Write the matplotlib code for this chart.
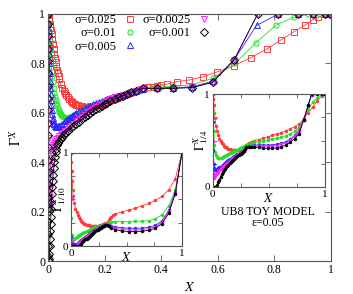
import matplotlib
matplotlib.use("Agg")
import matplotlib.pyplot as plt
from matplotlib.lines import Line2D

plt.rcParams['font.family'] = ['Liberation Serif', 'DejaVu Serif']
plt.rcParams['mathtext.fontset'] = 'stix'
plt.rcParams['font.size'] = 8.5

# ---------------- data: main panel (Gamma^X vs X) ----------------
labels = ["σ=0.025", "σ=0.01", "σ=0.005", "σ=0.0025", "σ=0.001"]
colors = ["#ff3b3b", "#22e022", "#2a2aff", "#ff22ff", "#000000"]
markers = ["s", "o", "^", "v", "D"]

x_red = [0, 0.002, 0.004, 0.006, 0.008, 0.01, 0.0125, 0.015, 0.0175, 0.02, 0.0225,
         0.025, 0.0275, 0.03, 0.0325, 0.035, 0.0375, 0.04, 0.045, 0.05, 0.055, 0.06,
         0.065, 0.07, 0.075, 0.08, 0.085, 0.09, 0.095, 0.1, 0.105, 0.11, 0.115, 0.12,
         0.125, 0.13, 0.135, 0.14, 0.145, 0.15, 0.155, 0.16, 0.165, 0.17, 0.175, 0.18,
         0.185, 0.19, 0.195, 0.2, 0.205, 0.21, 0.215, 0.22, 0.225, 0.23, 0.235, 0.24,
         0.245, 0.25, 0.26, 0.27, 0.28, 0.29, 0.3, 0.31, 0.32, 0.33, 0.34, 0.355, 0.37,
         0.385, 0.4, 0.42, 0.455, 0.499, 0.549, 0.598, 0.658, 0.716, 0.773, 0.823,
         0.869, 0.908, 0.935, 0.955, 0.985, 1.0]
y_red = [1.0, 0.985, 0.972, 0.96, 0.948, 0.935, 0.918, 0.9, 0.88, 0.86, 0.84, 0.82,
         0.805, 0.79, 0.775, 0.76, 0.748, 0.735, 0.715, 0.70, 0.69, 0.68, 0.671, 0.662,
         0.655, 0.648, 0.643, 0.638, 0.635, 0.632, 0.63, 0.628, 0.627, 0.626, 0.625,
         0.625, 0.625, 0.625, 0.625, 0.626, 0.627, 0.628, 0.629, 0.63, 0.631, 0.633,
         0.635, 0.637, 0.639, 0.641, 0.643, 0.645, 0.647, 0.65, 0.652, 0.655, 0.657,
         0.659, 0.661, 0.664, 0.668, 0.672, 0.676, 0.68, 0.684, 0.688, 0.692, 0.696,
         0.699, 0.703, 0.706, 0.709, 0.712, 0.716, 0.726, 0.733, 0.746, 0.766, 0.791,
         0.823, 0.858, 0.895, 0.928, 0.955, 0.976, 0.987, 1.0, 1.0]

x_green = [0, 0.002, 0.004, 0.006, 0.008, 0.01, 0.0125, 0.015, 0.0175, 0.02, 0.0225,
           0.025, 0.0275, 0.03, 0.0325, 0.035, 0.0375, 0.04, 0.0425, 0.045, 0.0475,
           0.05, 0.055, 0.06, 0.065, 0.07, 0.075, 0.08, 0.085, 0.09, 0.095, 0.1, 0.105,
           0.11, 0.115, 0.12, 0.125, 0.13, 0.135, 0.14, 0.145, 0.15, 0.155, 0.16, 0.17,
           0.18, 0.19, 0.2, 0.21, 0.22, 0.23, 0.24, 0.25, 0.26, 0.27, 0.28, 0.29, 0.3,
           0.32, 0.34, 0.37, 0.4, 0.443, 0.508, 0.584, 0.661, 0.735, 0.806, 0.869,
           0.92, 0.96, 0.985, 1.0]
y_green = [1.0, 0.965, 0.93, 0.89, 0.855, 0.82, 0.785, 0.75, 0.725, 0.70, 0.68, 0.665,
           0.652, 0.64, 0.63, 0.62, 0.612, 0.605, 0.6, 0.595, 0.591, 0.587, 0.582,
           0.579, 0.578, 0.579, 0.581, 0.583, 0.585, 0.588, 0.591, 0.594, 0.597, 0.6,
           0.603, 0.606, 0.609, 0.612, 0.615, 0.618, 0.621, 0.624, 0.627, 0.63, 0.635,
           0.64, 0.645, 0.65, 0.654, 0.658, 0.662, 0.665, 0.669, 0.672, 0.676, 0.679,
           0.683, 0.686, 0.692, 0.698, 0.703, 0.705, 0.707, 0.713, 0.740, 0.800,
           0.884, 0.955, 0.987, 0.998, 1.0, 1.0, 1.0]

x_blue = [0, 0.001, 0.002, 0.003, 0.004, 0.005, 0.006, 0.007, 0.008, 0.009, 0.01,
          0.0115, 0.013, 0.0145, 0.016, 0.018, 0.02, 0.0225, 0.025, 0.0275, 0.03,
          0.0325, 0.035, 0.0375, 0.04, 0.045, 0.05, 0.055, 0.06, 0.065, 0.07, 0.075,
          0.08, 0.085, 0.09, 0.095, 0.1, 0.11, 0.12, 0.13, 0.14, 0.15, 0.16, 0.17,
          0.18, 0.19, 0.2, 0.21, 0.22, 0.235, 0.25, 0.265, 0.28, 0.295, 0.31, 0.335,
          0.386, 0.443, 0.508, 0.582, 0.658, 0.737, 0.814, 0.882, 0.937, 0.979, 1.0]
y_blue = [1.0, 0.965, 0.93, 0.885, 0.84, 0.8, 0.76, 0.73, 0.70, 0.675, 0.65, 0.63,
          0.61, 0.595, 0.58, 0.57, 0.56, 0.553, 0.548, 0.545, 0.544, 0.544, 0.545,
          0.546, 0.548, 0.552, 0.556, 0.56, 0.565, 0.57, 0.574, 0.578, 0.583, 0.587,
          0.592, 0.596, 0.6, 0.606, 0.612, 0.618, 0.624, 0.629, 0.634, 0.639, 0.644,
          0.648, 0.652, 0.656, 0.659, 0.664, 0.668, 0.673, 0.678, 0.683, 0.688, 0.697,
          0.700, 0.702, 0.705, 0.728, 0.815, 0.954, 1.0, 1.0, 1.0, 1.0, 1.0]

x_mag = [0, 0.0003, 0.0006, 0.0009, 0.0012, 0.0015, 0.0018, 0.0021, 0.0024, 0.0027,
         0.003, 0.0033, 0.0036, 0.004, 0.0045, 0.005, 0.0055, 0.006, 0.0065, 0.007,
         0.0075, 0.008, 0.009, 0.01, 0.011, 0.0125, 0.014, 0.016, 0.018, 0.02, 0.025,
         0.03, 0.035, 0.04, 0.045, 0.05, 0.055, 0.06, 0.07, 0.08, 0.09, 0.1, 0.11,
         0.12, 0.13, 0.14, 0.15, 0.16, 0.17, 0.18, 0.19, 0.2, 0.21, 0.22, 0.235, 0.25,
         0.265, 0.28, 0.295, 0.31, 0.335, 0.386, 0.443, 0.508, 0.582, 0.658, 0.741,
         0.814, 0.882, 0.937, 0.979, 0.996]
y_mag = [1.0, 0.95, 0.9, 0.85, 0.8, 0.75, 0.7, 0.65, 0.6, 0.55, 0.5, 0.45, 0.4, 0.35,
         0.3, 0.26, 0.23, 0.22, 0.23, 0.26, 0.29, 0.32, 0.36, 0.39, 0.415, 0.435, 0.45,
         0.462, 0.47, 0.476, 0.486, 0.494, 0.5, 0.505, 0.51, 0.515, 0.52, 0.525,
         0.535, 0.545, 0.555, 0.565, 0.574, 0.583, 0.592, 0.6, 0.608, 0.616, 0.623,
         0.63, 0.637, 0.643, 0.649, 0.655, 0.662, 0.668, 0.673, 0.678, 0.683, 0.688,
         0.698, 0.699, 0.700, 0.703, 0.724, 0.815, 1.0, 1.0, 1.0, 1.0, 1.0, 1.0]

x_black = [0, 0.0005, 0.0005, 0.0005, 0.0005, 0.0005, 0.0005, 0.0005, 0.0005, 0.0005,
           0.0005, 0.0005, 0.0005, 0.0005, 0.0005, 0.0005, 0.0005, 0.0005, 0.0005,
           0.0005, 0.001, 0.002, 0.003, 0.004, 0.005, 0.006, 0.007, 0.008, 0.009,
           0.01, 0.011, 0.012, 0.0135, 0.015, 0.0165, 0.018, 0.02, 0.022, 0.0245,
           0.027, 0.03, 0.033, 0.0365, 0.04, 0.045, 0.05, 0.055, 0.06, 0.07, 0.08,
           0.09, 0.1, 0.11, 0.12, 0.13, 0.14, 0.15, 0.16, 0.17, 0.18, 0.19, 0.2, 0.21,
           0.22, 0.235, 0.25, 0.265, 0.28, 0.295, 0.31, 0.335, 0.386, 0.443, 0.508,
           0.582, 0.658, 0.741, 0.814, 0.882, 0.937, 0.979, 0.996]
y_black = [1.0, 0.96, 0.91, 0.86, 0.81, 0.76, 0.71, 0.66, 0.61, 0.56, 0.51, 0.46,
           0.41, 0.36, 0.31, 0.26, 0.21, 0.16, 0.11, 0.06, 0.02, 0.0, 0.0, 0.01, 0.03,
           0.06, 0.09, 0.12, 0.15, 0.18, 0.21, 0.24, 0.27, 0.30, 0.325, 0.35, 0.375,
           0.40, 0.42, 0.44, 0.455, 0.468, 0.478, 0.486, 0.495, 0.503, 0.51, 0.517,
           0.528, 0.538, 0.547, 0.555, 0.564, 0.573, 0.582, 0.59, 0.598, 0.606, 0.614,
           0.621, 0.628, 0.635, 0.641, 0.647, 0.655, 0.663, 0.67, 0.677, 0.683, 0.688,
           0.699, 0.699, 0.699, 0.702, 0.723, 0.815, 1.0, 1.0, 1.0, 1.0, 1.0, 1.0]

# ---------------- data: inset Gamma^X_{1/10} ----------------
a_red_x = [0, 0.003, 0.006, 0.01, 0.015, 0.02, 0.03, 0.04, 0.05, 0.06, 0.07, 0.08, 0.09,
           0.1, 0.11, 0.12, 0.13, 0.14, 0.15, 0.16, 0.17, 0.18, 0.19, 0.2, 0.21, 0.22,
           0.23, 0.24, 0.25, 0.26, 0.27, 0.28, 0.29, 0.3, 0.31, 0.32, 0.33, 0.34, 0.35,
           0.36, 0.38, 0.4, 0.46, 0.52, 0.58, 0.64, 0.7, 0.76, 0.82, 0.88, 0.94, 1.0]
a_red_y = [1.0, 0.9, 0.8, 0.7, 0.6, 0.53, 0.46, 0.4, 0.36, 0.33, 0.305, 0.285, 0.27,
           0.258, 0.248, 0.24, 0.233, 0.228, 0.224, 0.22, 0.217, 0.215, 0.214, 0.213,
           0.213, 0.213, 0.214, 0.215, 0.217, 0.22, 0.223, 0.226, 0.23, 0.235, 0.242,
           0.25, 0.262, 0.28, 0.295, 0.31, 0.33, 0.345, 0.365, 0.385, 0.405, 0.43,
           0.455, 0.49, 0.53, 0.6, 0.72, 1.0]
a_green_x = [0, 0.002, 0.004, 0.006, 0.01, 0.02, 0.03, 0.04, 0.05, 0.06, 0.07, 0.08,
             0.09, 0.1, 0.11, 0.12, 0.13, 0.14, 0.15, 0.16, 0.17, 0.18, 0.19, 0.2, 0.21,
             0.22, 0.23, 0.24, 0.25, 0.26, 0.27, 0.28, 0.29, 0.3, 0.31, 0.32, 0.33,
             0.34, 0.36, 0.4, 0.46, 0.52, 0.58, 0.64, 0.7, 0.76, 0.82, 0.88, 0.94, 1.0]
a_green_y = [1.0, 0.6, 0.3, 0.12, 0.07, 0.065, 0.075, 0.085, 0.095, 0.105, 0.113,
             0.12, 0.128, 0.135, 0.143, 0.15, 0.155, 0.16, 0.165, 0.17, 0.175, 0.18,
             0.185, 0.19, 0.195, 0.2, 0.204, 0.208, 0.212, 0.215, 0.219, 0.222, 0.225,
             0.228, 0.233, 0.238, 0.245, 0.252, 0.26, 0.262, 0.262, 0.262, 0.263, 0.266,
             0.272, 0.29, 0.335, 0.43, 0.6, 1.0]
a_blue_x = [0, 0.002, 0.004, 0.006, 0.02, 0.04, 0.06, 0.07, 0.08, 0.09, 0.1, 0.11,
            0.12, 0.13, 0.14, 0.15, 0.16, 0.17, 0.18, 0.19, 0.2, 0.21, 0.22, 0.23,
            0.24, 0.25, 0.26, 0.27, 0.28, 0.29, 0.3, 0.31, 0.32, 0.34, 0.36, 0.4, 0.46,
            0.52, 0.58, 0.64, 0.7, 0.76, 0.82, 0.88, 0.94, 1.0]
a_blue_y = [1.0, 0.5, 0.1, 0.03, 0.02, 0.02, 0.03, 0.04, 0.05, 0.06, 0.07, 0.08, 0.09,
            0.1, 0.11, 0.12, 0.13, 0.138, 0.145, 0.153, 0.16, 0.168, 0.175, 0.182,
            0.188, 0.194, 0.2, 0.205, 0.21, 0.215, 0.22, 0.224, 0.228, 0.222, 0.212,
            0.205, 0.195, 0.19, 0.19, 0.192, 0.2, 0.22, 0.27, 0.38, 0.58, 1.0]
a_mag_x = [0, 0, 0, 0.005, 0.02, 0.04, 0.06, 0.07, 0.08, 0.09, 0.1, 0.11, 0.12, 0.13,
           0.14, 0.15, 0.16, 0.17, 0.18, 0.19, 0.2, 0.21, 0.22, 0.23, 0.24, 0.25, 0.26,
           0.27, 0.28, 0.29, 0.3, 0.31, 0.32, 0.34, 0.36, 0.4, 0.46, 0.52, 0.58, 0.64,
           0.7, 0.76, 0.82, 0.88, 0.94, 1.0]
a_mag_y = [1.0, 0.5, 0.05, 0.0, 0.0, 0.005, 0.02, 0.03, 0.04, 0.05, 0.06, 0.07, 0.08,
           0.09, 0.1, 0.11, 0.12, 0.13, 0.14, 0.148, 0.155, 0.163, 0.17, 0.178, 0.185,
           0.191, 0.197, 0.203, 0.208, 0.213, 0.218, 0.222, 0.226, 0.215, 0.2, 0.19,
           0.178, 0.172, 0.172, 0.176, 0.185, 0.205, 0.255, 0.37, 0.57, 1.0]
a_black_x = [0, 0.02, 0.04, 0.06, 0.08, 0.09, 0.1, 0.11, 0.12, 0.13, 0.14, 0.15, 0.16,
             0.17, 0.18, 0.19, 0.2, 0.21, 0.22, 0.23, 0.24, 0.25, 0.26, 0.27, 0.28,
             0.29, 0.3, 0.31, 0.32, 0.34, 0.36, 0.4, 0.46, 0.52, 0.58, 0.64, 0.7, 0.76,
             0.82, 0.88, 0.94, 1.0]
a_black_y = [0.0, 0.0, 0.0, 0.0, 0.01, 0.025, 0.04, 0.05, 0.06, 0.07, 0.08, 0.09, 0.1,
             0.11, 0.12, 0.13, 0.14, 0.149, 0.158, 0.167, 0.175, 0.183, 0.19, 0.197,
             0.203, 0.209, 0.215, 0.22, 0.224, 0.21, 0.19, 0.175, 0.16, 0.155, 0.155,
             0.158, 0.168, 0.19, 0.24, 0.35, 0.56, 1.0]

# ---------------- data: inset Gamma^X_{1/4} ----------------
b_red_x = [0, 0.005, 0.01, 0.015, 0.02, 0.03, 0.04, 0.05, 0.06, 0.07, 0.08, 0.09, 0.1,
           0.11, 0.12, 0.13, 0.14, 0.15, 0.16, 0.17, 0.18, 0.19, 0.2, 0.21, 0.22, 0.23,
           0.24, 0.25, 0.26, 0.27, 0.28, 0.29, 0.3, 0.31, 0.32, 0.34, 0.37, 0.41, 0.45,
           0.49, 0.53, 0.57, 0.61, 0.65, 0.69, 0.73, 0.77, 0.81, 0.85, 0.89, 0.93,
           0.97, 1.0]
b_red_y = [1.0, 0.95, 0.88, 0.8, 0.74, 0.66, 0.6, 0.56, 0.52, 0.495, 0.475, 0.458,
           0.445, 0.434, 0.425, 0.417, 0.41, 0.406, 0.402, 0.4, 0.398, 0.398, 0.398,
           0.399, 0.4, 0.402, 0.405, 0.41, 0.415, 0.422, 0.43, 0.44, 0.45, 0.46, 0.47,
           0.485, 0.5, 0.51, 0.525, 0.54, 0.555, 0.57, 0.585, 0.605, 0.625, 0.65,
           0.68, 0.73, 0.8, 0.86, 0.92, 0.98, 1.0]
b_green_x = [0, 0.005, 0.01, 0.015, 0.02, 0.03, 0.04, 0.05, 0.06, 0.07, 0.08, 0.09,
             0.1, 0.11, 0.12, 0.13, 0.14, 0.15, 0.16, 0.17, 0.18, 0.19, 0.2, 0.21, 0.22,
             0.23, 0.24, 0.25, 0.26, 0.27, 0.28, 0.29, 0.3, 0.32, 0.34, 0.37, 0.41,
             0.45, 0.49, 0.53, 0.57, 0.61, 0.65, 0.69, 0.73, 0.77, 0.81, 0.85, 0.89,
             0.93, 0.97, 1.0]
b_green_y = [1.0, 0.8, 0.6, 0.45, 0.38, 0.34, 0.32, 0.31, 0.308, 0.31, 0.315, 0.322,
             0.33, 0.336, 0.342, 0.348, 0.355, 0.362, 0.368, 0.374, 0.38, 0.386, 0.392,
             0.397, 0.403, 0.408, 0.414, 0.42, 0.425, 0.431, 0.437, 0.443, 0.45, 0.46,
             0.47, 0.48, 0.488, 0.495, 0.505, 0.515, 0.525, 0.537, 0.552, 0.572, 0.6,
             0.64, 0.74, 0.83, 0.91, 0.96, 0.99, 1.0]
b_blue_x = [0, 0.003, 0.006, 0.01, 0.015, 0.02, 0.03, 0.04, 0.05, 0.06, 0.07, 0.08,
            0.09, 0.1, 0.11, 0.12, 0.13, 0.14, 0.15, 0.16, 0.17, 0.18, 0.19, 0.2, 0.21,
            0.22, 0.23, 0.24, 0.25, 0.26, 0.27, 0.28, 0.29, 0.3, 0.32, 0.34, 0.37,
            0.41, 0.45, 0.49, 0.53, 0.57, 0.61, 0.65, 0.69, 0.73, 0.77, 0.81, 0.85,
            0.88, 0.93, 0.97, 1.0]
b_blue_y = [1.0, 0.7, 0.4, 0.25, 0.2, 0.185, 0.185, 0.19, 0.2, 0.21, 0.22, 0.23, 0.24,
            0.25, 0.26, 0.27, 0.28, 0.29, 0.298, 0.305, 0.313, 0.32, 0.328, 0.335,
            0.343, 0.35, 0.358, 0.365, 0.373, 0.38, 0.388, 0.395, 0.41, 0.43, 0.44,
            0.445, 0.45, 0.452, 0.452, 0.452, 0.452, 0.458, 0.47, 0.488, 0.515, 0.555,
            0.61, 0.72, 0.87, 0.99, 1.0, 1.0, 1.0]
b_mag_x = [0, 0, 0.002, 0.005, 0.01, 0.02, 0.03, 0.04, 0.05, 0.06, 0.07, 0.08, 0.09,
           0.1, 0.11, 0.12, 0.13, 0.14, 0.15, 0.16, 0.17, 0.18, 0.19, 0.2, 0.21, 0.22,
           0.23, 0.24, 0.25, 0.26, 0.27, 0.28, 0.29, 0.3, 0.32, 0.34, 0.37, 0.41, 0.45,
           0.49, 0.53, 0.57, 0.61, 0.65, 0.69, 0.73, 0.77, 0.81, 0.85, 0.88, 0.93,
           0.97, 1.0]
b_mag_y = [1.0, 0.5, 0.15, 0.1, 0.1, 0.12, 0.135, 0.15, 0.165, 0.18, 0.195, 0.21,
           0.22, 0.23, 0.24, 0.25, 0.26, 0.27, 0.28, 0.29, 0.3, 0.31, 0.318, 0.325,
           0.333, 0.34, 0.35, 0.36, 0.368, 0.375, 0.383, 0.39, 0.41, 0.43, 0.435,
           0.438, 0.44, 0.442, 0.44, 0.438, 0.438, 0.445, 0.458, 0.476, 0.505, 0.545,
           0.6, 0.72, 0.88, 1.0, 1.0, 1.0, 1.0]
b_black_x = [0, 0.01, 0.02, 0.03, 0.04, 0.05, 0.06, 0.07, 0.08, 0.09, 0.1, 0.11, 0.12,
             0.13, 0.14, 0.15, 0.16, 0.17, 0.18, 0.19, 0.2, 0.21, 0.22, 0.23, 0.24,
             0.25, 0.26, 0.27, 0.28, 0.29, 0.3, 0.32, 0.34, 0.37, 0.41, 0.45, 0.49,
             0.53, 0.57, 0.61, 0.65, 0.69, 0.73, 0.77, 0.81, 0.85, 0.88, 0.93, 0.97,
             1.0]
b_black_y = [0.0, 0.0, 0.0, 0.005, 0.02, 0.05, 0.08, 0.11, 0.14, 0.16, 0.18, 0.195,
             0.21, 0.225, 0.24, 0.253, 0.265, 0.278, 0.29, 0.3, 0.31, 0.32, 0.33, 0.34,
             0.35, 0.36, 0.37, 0.38, 0.39, 0.41, 0.43, 0.432, 0.43, 0.428, 0.425, 0.418,
             0.416, 0.416, 0.42, 0.433, 0.45, 0.48, 0.52, 0.575, 0.72, 0.88, 1.0, 1.0,
             1.0, 1.0]

main_x = [x_red, x_green, x_blue, x_mag, x_black]
main_y = [y_red, y_green, y_blue, y_mag, y_black]
ins1_x = [a_red_x, a_green_x, a_blue_x, a_mag_x, a_black_x]
ins1_y = [a_red_y, a_green_y, a_blue_y, a_mag_y, a_black_y]
ins2_x = [b_red_x, b_green_x, b_blue_x, b_mag_x, b_black_x]
ins2_y = [b_red_y, b_green_y, b_blue_y, b_mag_y, b_black_y]

W, H = 353, 294
fig = plt.figure(figsize=(W / 100, H / 100), dpi=100)


def frame(ax):
    for s in ax.spines.values():
        s.set_color('#555555')
        s.set_linewidth(0.8)
    ax.tick_params(direction='in', top=True, right=True, length=3, width=0.6,
                   color='#555555', pad=2)


# main axes
ax = fig.add_axes([48 / W, 1 - 261 / H, 283 / W, 247 / H])
for xs, ys, c, m in zip(main_x, main_y, colors, markers):
    ax.plot(xs, ys, color=c, lw=0.6, marker=m, ms=3.7, mfc='none', mec=c, mew=0.7)
ax.set_xlim(0, 1)
ax.set_ylim(0, 1)
ax.set_xticks([0, 0.2, 0.4, 0.6, 0.8, 1])
ax.set_xticklabels(["0", "0.2", "0.4", "0.6", "0.8", "1"])
ax.set_yticks([0, 0.2, 0.4, 0.6, 0.8, 1])
ax.set_yticklabels(["0", "0.2", "0.4", "0.6", "0.8", "1"])
frame(ax)
ax.tick_params(length=4)
ax.set_xlabel(r"$X$", fontsize=10, labelpad=4)
ax.set_ylabel(r"$\Gamma^{X}$", fontsize=10, labelpad=4)

handles = [Line2D([], [], ls='none', marker=m, ms=3.7, mfc='none', mec=c, mew=0.7)
           for c, m in zip(colors, markers)]
ax.legend(handles, labels, ncol=2, markerfirst=False, frameon=False,
          loc='upper left', bbox_to_anchor=(0.075, 1.02), handlelength=1.0,
          handletextpad=0.6, columnspacing=0.5, labelspacing=0.1,
          borderaxespad=0.0, fontsize=9)

# inset 1/10
ax1 = fig.add_axes([71 / W, 1 - 246 / H, 111 / W, 93.5 / H])
for xs, ys, c in zip(ins1_x, ins1_y, colors):
    ax1.plot(xs, ys, color=c, lw=0.6, marker='o', ms=2.2, mfc=c, mec=c, mew=0.3)
# inset 1/4
ax2 = fig.add_axes([212.7 / W, 1 - 187 / H, 112.3 / W, 93 / H])
for xs, ys, c in zip(ins2_x, ins2_y, colors):
    ax2.plot(xs, ys, color=c, lw=0.6, marker='o', ms=2.2, mfc=c, mec=c, mew=0.3)

for a, sub in [(ax1, "1/10"), (ax2, "1/4")]:
    a.set_xlim(0, 1)
    a.set_ylim(0, 1)
    a.set_xticks([0, 0.25, 0.5, 0.75, 1])
    a.set_xticklabels(["0", "", "", "", "1"])
    a.set_yticks([0, 0.25, 0.5, 0.75, 1])
    a.set_yticklabels(["0", "", "", "", "1"])
    frame(a)
    a.tick_params(labelsize=8)
    a.set_xlabel(r"$X$", fontsize=9.5, labelpad=-5)
    a.set_ylabel(r"$\Gamma^{X}_{%s}$" % sub, fontsize=9.5, labelpad=-4)

fig.text(268 / W, 1 - 211.7 / H, "UB8 TOY MODEL", ha='center', va='center', fontsize=8.5)
fig.text(268 / W, 1 - 223.3 / H, "ε=0.05", ha='center', va='center', fontsize=8.5)

fig.savefig("out.png", dpi=100)
